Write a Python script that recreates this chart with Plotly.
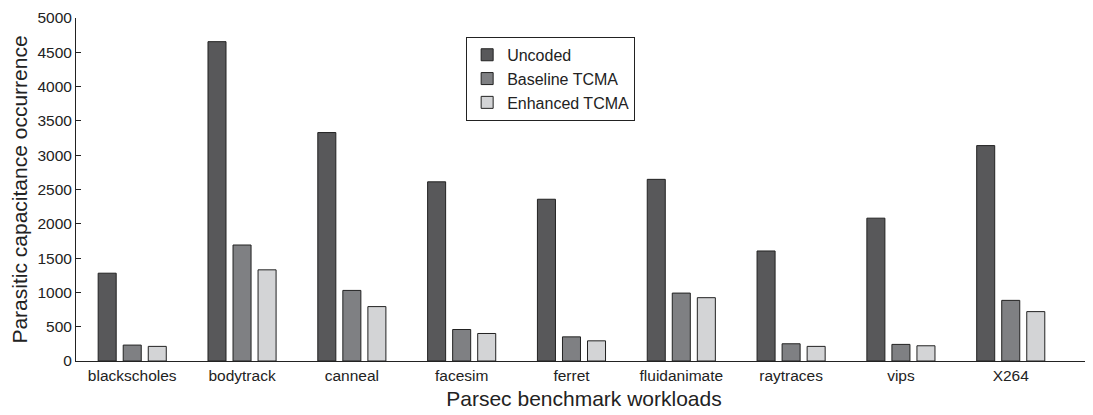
import plotly.graph_objects as go

categories = ["blackscholes", "bodytrack", "canneal", "facesim", "ferret",
              "fluidanimate", "raytraces", "vips", "X264"]
uncoded = [1280, 4655, 3330, 2612, 2358, 2648, 1604, 2082, 3140]
baseline_tcma = [232, 1691, 1029, 459, 352, 990, 251, 242, 884]
enhanced_tcma = [213, 1329, 793, 401, 294, 923, 213, 222, 720]

series = [
    ("Uncoded", uncoded, "#58585a"),
    ("Baseline TCMA", baseline_tcma, "#7f8083"),
    ("Enhanced TCMA", enhanced_tcma, "#d3d4d6"),
]

fig = go.Figure()
for name, vals, col in series:
    fig.add_trace(go.Bar(
        x=list(range(len(categories))), y=vals, name=name,
        marker=dict(color=col, line=dict(color="#222222", width=1)),
    ))

font_family = "Liberation Sans, Arial, sans-serif"
# page body has an 8px default margin; figure sized/offset to compensate
fig.update_layout(
    width=1085, height=407,
    margin=dict(l=68, r=1, t=8, b=54),
    paper_bgcolor="white", plot_bgcolor="white",
    barmode="group", bargap=0.316, bargroupgap=0.28,
    font=dict(family=font_family, size=15.5, color="#222222"),
    showlegend=True,
    legend=dict(
        x=0.384, y=0.945, xanchor="left", yanchor="top",
        bgcolor="white", bordercolor="#222222", borderwidth=1,
        font=dict(size=16, family=font_family),
        itemwidth=30, tracegroupgap=0,
    ),
    xaxis=dict(
        range=[-0.512, 8.74],
        tickmode="array", tickvals=list(range(len(categories))), ticktext=categories,
        ticks="", showline=True, linecolor="#222222", linewidth=1,
        showgrid=False, zeroline=False,
        tickfont=dict(size=15.5),
        title=dict(text="Parsec benchmark workloads", font=dict(size=21), standoff=8),
    ),
    yaxis=dict(
        range=[0, 5000], tickmode="linear", tick0=0, dtick=500,
        ticks="inside", ticklen=5, tickcolor="#222222",
        showline=True, linecolor="#222222", linewidth=1,
        showgrid=False, zeroline=False, ticklabeloverflow="allow",
        tickfont=dict(size=15.5),
        title=dict(text="Parasitic capacitance occurrence", font=dict(size=21), standoff=4),
    ),
)

fig.write_html("out.html")
